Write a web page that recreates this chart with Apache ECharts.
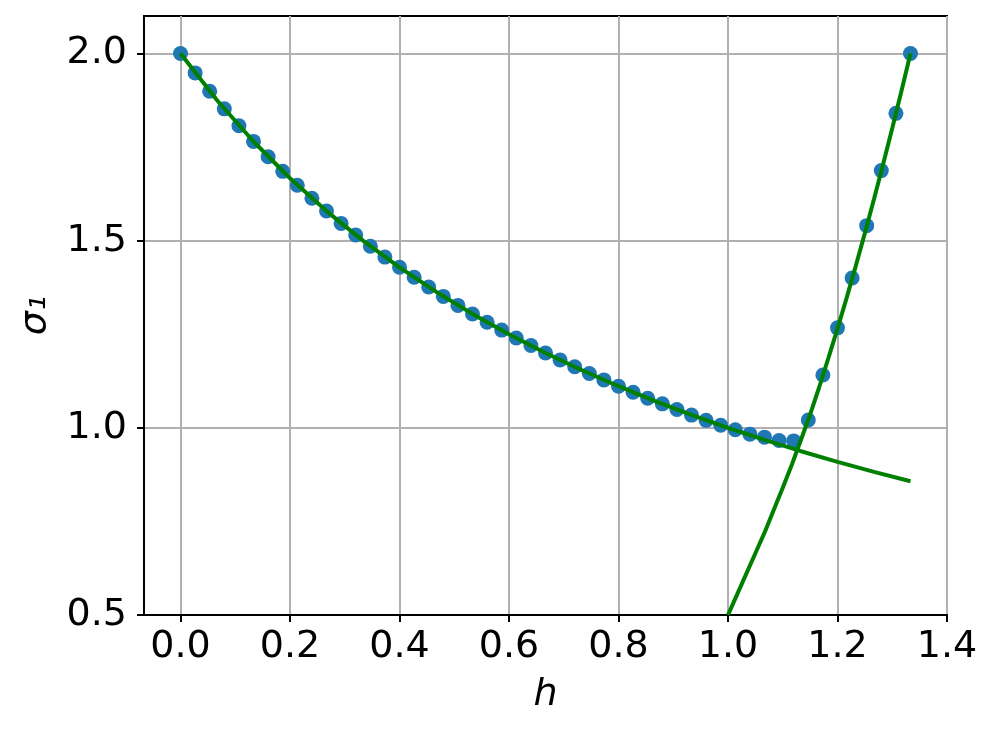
<!DOCTYPE html>
<html>
<head>
<meta charset="utf-8">
<script src="https://cdn.jsdelivr.net/npm/echarts@6/dist/echarts.min.js"></script>
<style>
  html, body { margin: 0; padding: 0; background: #fff; }
  #chart { width: 996px; height: 734px; }
</style>
</head>
<body>
<div id="chart"></div>
<script>
// sampled points (blue markers)
const hMarks = [0, 0.0267, 0.0533, 0.08, 0.1067, 0.1333, 0.16, 0.1867, 0.2133, 0.24,
  0.2667, 0.2933, 0.32, 0.3467, 0.3733, 0.4, 0.4267, 0.4533, 0.48, 0.5067,
  0.5333, 0.56, 0.5867, 0.6133, 0.64, 0.6667, 0.6933, 0.72, 0.7467, 0.7733,
  0.8, 0.8267, 0.8533, 0.88, 0.9067, 0.9333, 0.96, 0.9867, 1.0133, 1.04,
  1.0667, 1.0933, 1.12, 1.1467, 1.1733, 1.2, 1.2267, 1.2533, 1.28, 1.3067, 1.3333];
const sigmaMarks = [2.0, 1.948, 1.899, 1.852, 1.807, 1.765, 1.724, 1.685, 1.648, 1.613,
  1.579, 1.546, 1.515, 1.485, 1.456, 1.429, 1.402, 1.376, 1.351, 1.327,
  1.304, 1.282, 1.261, 1.240, 1.220, 1.2, 1.181, 1.163, 1.145, 1.128,
  1.111, 1.095, 1.079, 1.064, 1.049, 1.034, 1.020, 1.007, 0.995, 0.983,
  0.975, 0.966, 0.965, 1.021, 1.141, 1.267, 1.400, 1.540, 1.687, 1.840, 2.0];

// green curve, decreasing branch
const hLow = [0, 0.0667, 0.1333, 0.2, 0.2667, 0.3333, 0.4, 0.4667, 0.5333, 0.6,
  0.6667, 0.7333, 0.8, 0.8667, 0.9333, 1.0, 1.0667, 1.1333, 1.2, 1.2667, 1.3333];
const sigmaLow = [2.0, 1.875, 1.7647, 1.6667, 1.5789, 1.5, 1.4286, 1.3636, 1.3043, 1.25,
  1.2, 1.1538, 1.1111, 1.0714, 1.0345, 1.0, 0.9677, 0.9375, 0.9091, 0.8824, 0.8571];

// green curve, rising branch
const hHigh = [1.0, 1.0167, 1.0333, 1.05, 1.0667, 1.0833, 1.1, 1.1167, 1.1333, 1.15,
  1.1667, 1.1833, 1.2, 1.2167, 1.2333, 1.25, 1.2667, 1.2833, 1.3, 1.3167, 1.3333];
const sigmaHigh = [0.5, 0.555, 0.61, 0.665, 0.72, 0.78, 0.84, 0.902, 0.968, 1.036,
  1.109, 1.186, 1.265, 1.347, 1.432, 1.52, 1.611, 1.704, 1.8, 1.899, 2.0];

const xTicks = [0, 0.2, 0.4, 0.6, 0.8, 1.0, 1.2, 1.4];
const yTicks = [0.5, 1.0, 1.5, 2.0];

const font = 'DejaVu Sans';
const zip = (xs, ys) => xs.map((x, i) => [x, ys[i]]);

const axisCommon = {
  type: 'value',
  axisLine: { show: true, onZero: false, lineStyle: { color: '#000', width: 2 } },
  axisTick: { show: true, inside: false, length: 7, lineStyle: { color: '#000', width: 2 } },
  splitLine: { show: true, lineStyle: { color: '#b0b0b0', width: 2 } },
  nameLocation: 'middle'
};

const getOption = () => ({
  animation: false,
  backgroundColor: '#fff',
  grid: {
    left: 144, right: 49, top: 16, bottom: 119,
    show: true, borderColor: '#000', borderWidth: 2, backgroundColor: 'transparent'
  },
  xAxis: Object.assign({}, axisCommon, {
    min: -0.0667,
    max: 1.4,
    axisTick: Object.assign({}, axisCommon.axisTick, { customValues: xTicks }),
    axisLabel: {
      customValues: xTicks,
      formatter: v => v.toFixed(1),
      color: '#000', fontFamily: font, fontSize: 38, lineHeight: 38,
      margin: 13, hideOverlap: false
    },
    name: 'h',
    nameGap: 61,
    nameTextStyle: { color: '#000', fontFamily: font, fontSize: 38, fontStyle: 'italic', lineHeight: 38 }
  }),
  yAxis: Object.assign({}, axisCommon, {
    min: 0.5,
    max: 2.1,
    axisTick: Object.assign({}, axisCommon.axisTick, { customValues: yTicks }),
    axisLabel: {
      customValues: yTicks,
      formatter: v => v.toFixed(1),
      color: '#000', fontFamily: font, fontSize: 38, lineHeight: 38,
      margin: 17, hideOverlap: false
    },
    name: 'σ₁',
    nameGap: 90,
    nameTextStyle: { color: '#000', fontFamily: font, fontSize: 38, fontStyle: 'italic', lineHeight: 38 }
  }),
  series: [
    {
      type: 'scatter',
      data: zip(hMarks, sigmaMarks),
      symbol: 'circle',
      symbolSize: 15,
      itemStyle: { color: '#1f77b4', opacity: 1 },
      z: 2
    },
    {
      type: 'line',
      data: zip(hLow, sigmaLow),
      showSymbol: false,
      lineStyle: { color: '#008000', width: 4 },
      z: 3
    },
    {
      type: 'line',
      data: zip(hHigh, sigmaHigh),
      showSymbol: false,
      lineStyle: { color: '#008000', width: 4 },
      z: 3
    }
  ]
});

const chart = echarts.init(document.getElementById('chart'), null, { renderer: 'canvas' });
chart.setOption(getOption());
</script>
</body>
</html>
